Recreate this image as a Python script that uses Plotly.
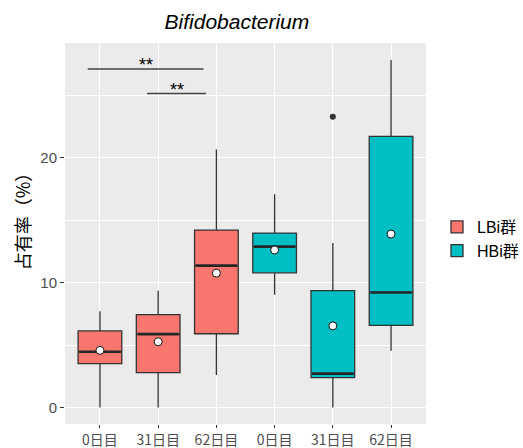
import plotly.graph_objects as go

days = ["0日目", "31日目", "62日目"]
groups = ["LBi群", "HBi群"]
colors = {"LBi群": "#F8766D", "HBi群": "#00BFC4"}

# box statistics per group, per day
lbi_lower = [0.0, 0.0, 2.6]
lbi_q1 = [3.5, 2.79, 5.9]
lbi_median = [4.46, 5.87, 11.36]
lbi_q3 = [6.13, 7.43, 14.21]
lbi_upper = [7.7, 9.35, 20.66]
lbi_mean = [4.57, 5.26, 10.76]

hbi_lower = [9.03, 0.0, 4.54]
hbi_q1 = [10.78, 2.39, 6.58]
hbi_median = [12.88, 2.71, 9.21]
hbi_q3 = [13.97, 9.35, 21.72]
hbi_upper = [17.08, 13.17, 27.83]
hbi_mean = [12.61, 6.53, 13.89]

# outliers: (group, day, value)
outlier_group = ["HBi群"]
outlier_day = ["31日目"]
outlier_value = [23.3]

# significance brackets: positions (over the 6 boxes), y level, label
sig_x0 = [0.79, 1.81]
sig_x1 = [2.78, 2.82]
sig_y = [27.12, 25.15]
sig_label = ["**", "**"]

stats = {
    "LBi群": dict(lower=lbi_lower, q1=lbi_q1, med=lbi_median, q3=lbi_q3, upper=lbi_upper, mean=lbi_mean),
    "HBi群": dict(lower=hbi_lower, q1=hbi_q1, med=hbi_median, q3=hbi_q3, upper=hbi_upper, mean=hbi_mean),
}

box_w = 0.75
fig = go.Figure()
positions = {}
for gi, g in enumerate(groups):
    xs = [gi * 3 + i + 1 for i in range(3)]
    positions[g] = xs
    s = stats[g]
    fig.add_trace(go.Box(
        x=xs, q1=s["q1"], median=s["med"], q3=s["q3"],
        lowerfence=s["lower"], upperfence=s["upper"],
        name=g, fillcolor=colors[g], width=box_w, whiskerwidth=0,
        line=dict(color="#333333", width=1.3), boxpoints=False,
        hoverinfo="skip", showlegend=True,
    ))

for g in groups:
    mx, my = [], []
    for x, m in zip(positions[g], stats[g]["med"]):
        mx += [x - box_w / 2 + 0.02, x + box_w / 2 - 0.02, None]
        my += [m, m, None]
    fig.add_trace(go.Scatter(x=mx, y=my, mode="lines", line=dict(color="#262626", width=2.6),
                             showlegend=False, hoverinfo="skip"))
    fig.add_trace(go.Scatter(x=positions[g], y=stats[g]["mean"], mode="markers",
                             marker=dict(color="white", size=8, line=dict(color="#111111", width=1)),
                             showlegend=False, hoverinfo="skip"))

ox = [positions[g][days.index(d)] for g, d in zip(outlier_group, outlier_day)]
fig.add_trace(go.Scatter(x=ox, y=outlier_value, mode="markers",
                         marker=dict(color="#333333", size=6), showlegend=False, hoverinfo="skip"))

for x0, x1, y, lab in zip(sig_x0, sig_x1, sig_y, sig_label):
    fig.add_shape(type="line", x0=x0, x1=x1, y0=y, y1=y, xref="x", yref="y",
                  line=dict(color="#444444", width=1.4))
    fig.add_annotation(x=(x0 + x1) / 2, y=y, text=lab, showarrow=False, yanchor="bottom",
                       yshift=-8, font=dict(size=18, color="black"))

# y-axis title as annotation for precise placement
fig.add_annotation(text="占有率（%）", textangle=-90, xref="paper", yref="paper",
                   x=(22 - 65) / 361, y=(426 - 218) / 383.3, xanchor="center", yanchor="middle",
                   showarrow=False, font=dict(size=18, color="black", family="Noto Sans CJK JP"))

font_fam = "Liberation Sans, Arial, Noto Sans CJK JP, sans-serif"
fig.update_layout(
    width=523, height=448,
    margin=dict(l=65, r=97, t=43, b=24, autoexpand=False),
    paper_bgcolor="white", plot_bgcolor="#EBEBEB",
    font=dict(family=font_fam),
    title=dict(text="<i>Bifidobacterium</i>", x=0.453, xref="container", xanchor="center",
               y=0.951, yref="container", yanchor="middle", font=dict(size=21, color="black")),
    boxmode="overlay",
    legend=dict(x=437 / 523, xref="container", xanchor="left", y=1 - 239 / 448, yref="container",
                yanchor="middle", font=dict(size=16, color="black"),
                bgcolor="rgba(0,0,0,0)", tracegroupgap=0, itemwidth=30),
    xaxis=dict(range=[0.4, 6.6], tickvals=[1, 2, 3, 4, 5, 6], ticktext=days + days,
               showgrid=True, gridcolor="white", gridwidth=1.1, zeroline=False, automargin=False,
               ticks="outside", ticklen=3, tickcolor="#333333",
               tickfont=dict(size=14, color="#4D4D4D", family="Noto Sans CJK JP"), showline=False),
    yaxis=dict(range=[-1.33, 29.2], tickvals=[0, 10, 20], automargin=False,
               showgrid=True, gridcolor="white", gridwidth=1.1, zeroline=False,
               minor=dict(tickvals=[5, 15, 25], showgrid=True, gridcolor="white", gridwidth=0.5),
               ticks="outside", ticklen=4, tickcolor="#333333",
               tickfont=dict(size=15, color="#4D4D4D")),
)

fig.write_html("out.html", config={"displayModeBar": False},
               post_script="document.body.style.margin='0';document.body.style.overflow='hidden';")
